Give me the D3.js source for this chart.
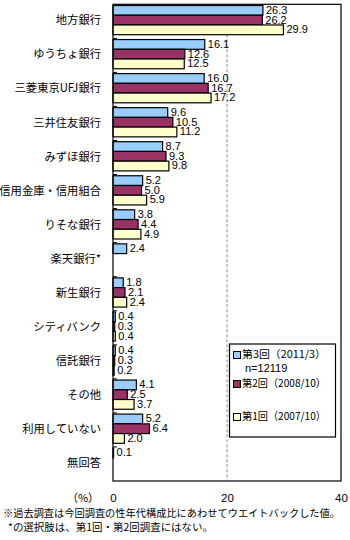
<!DOCTYPE html>
<html><head><meta charset="utf-8">
<script src="https://cdn.jsdelivr.net/npm/d3@7"></script>
<style>
body{margin:0;background:#fff;}
svg{display:block;}
</style></head>
<body>
<svg id="c" width="350" height="540"></svg>
<script>
const categories = ["地方銀行","ゆうちょ銀行","三菱東京UFJ銀行","三井住友銀行","みずほ銀行","信用金庫・信用組合","りそな銀行","楽天銀行*","新生銀行","シティバンク","信託銀行","その他","利用していない","無回答"];
const seriesNames = ["第3回（2011/3）","第2回（2008/10）","第1回（2007/10）"];
const legendSub = "n=12119";
const s3 = [26.3,16.1,16.0,9.6,8.7,5.2,3.8,2.4,1.8,0.4,0.4,4.1,5.2,0.1];
const s2 = [26.2,12.6,16.7,10.5,9.3,5.0,4.4,null,2.1,0.3,0.3,2.5,6.4,null];
const s1 = [29.9,12.5,17.2,11.2,9.8,5.9,4.9,null,2.4,0.4,0.2,3.7,2.0,null];
const xTicks = [0,20,40];
const colors = ["#99CCFF","#993366","#FFFFCC"];
const notes = ["※過去調査は今回調査の性年代構成比にあわせてウエイトバックした値。","*の選択肢は、第1回・第2回調査にはない。"];

const series = [s3,s2,s1];
const svg = d3.select("#c");
const L=113, R=341, T=4.3, B=481;
const jp = "'Noto Sans CJK JP', sans-serif";
const num = "'Liberation Sans', Arial, sans-serif";

const x = d3.scaleLinear().domain([0,40]).range([L,R]);
const y = d3.scaleBand().domain(categories).range([T,B]).padding(0);
const inner = d3.scaleBand().domain([0,1,2]).range([1.2, 30.4]).padding(0);

// gridline at 20
svg.append("line").attr("x1",x(20)).attr("x2",x(20)).attr("y1",T).attr("y2",B)
  .attr("stroke","#888").attr("stroke-width",1).attr("stroke-dasharray","3,2");

// bars
categories.forEach((c,i)=>{
  series.forEach((s,j)=>{
    const v = s[i];
    if(v==null) return;
    const y0 = y(c)+inner(j);
    svg.append("rect").attr("x",x(0)).attr("y",y0)
      .attr("width",Math.max(x(v)-x(0),0.5)).attr("height",inner.bandwidth())
      .attr("fill",colors[j]).attr("stroke","#000").attr("stroke-width",1.2);
    svg.append("text").attr("x",x(v)+3).attr("y",y0+inner.bandwidth()/2+0.5)
      .attr("dominant-baseline","middle").attr("font-family",num).attr("font-size",11)
      .attr("fill","#000").text(v.toFixed(1));
  });
});

// frame
svg.append("rect").attr("x",L).attr("y",T).attr("width",R-L).attr("height",B-T)
  .attr("fill","none").attr("stroke","#000").attr("stroke-width",1.2);

// category ticks (inside)
categories.forEach((c,i)=>{
  if(i===0) return;
  svg.append("line").attr("x1",L).attr("x2",L+4).attr("y1",y(c)).attr("y2",y(c))
    .attr("stroke","#000").attr("stroke-width",1);
});

// category labels
svg.selectAll("text.cat").data(categories).enter().append("text")
  .attr("class","cat").attr("x",101).attr("y",d=>y(d)+y.bandwidth()/2)
  .attr("text-anchor","end").attr("dominant-baseline","middle")
  .attr("font-family",jp).attr("font-size",11.3).attr("fill","#000")
  .text(d=>d);

// x axis labels
const xa = svg.append("g").attr("transform",`translate(0,${B})`)
  .call(d3.axisBottom(x).tickValues(xTicks).tickSize(0).tickPadding(13).tickFormat(d3.format("d")));
xa.select(".domain").remove();
xa.selectAll("text").attr("font-family",num).attr("font-size",11.5).attr("fill","#000");
svg.append("text").attr("x",83).attr("y",499).attr("text-anchor","middle")
  .attr("dominant-baseline","middle").attr("font-family",jp).attr("font-size",11)
  .text("（%）");

// legend
const lg = svg.append("g");
lg.append("rect").attr("x",229.5).attr("y",344).attr("width",106).attr("height",93)
  .attr("fill","#fff").attr("stroke","#000").attr("stroke-width",1.2);
const ly = [355,384,417];
seriesNames.forEach((n,j)=>{
  lg.append("rect").attr("x",233.5).attr("y",ly[j]-3.5).attr("width",7).attr("height",7)
    .attr("fill",colors[j]).attr("stroke","#000").attr("stroke-width",1);
  lg.append("text").attr("x",242).attr("y",ly[j]).attr("dominant-baseline","middle")
    .attr("font-family",jp).attr("font-size",10.5).attr("textLength",84).attr("lengthAdjust","spacingAndGlyphs").text(n);
});
lg.append("text").attr("x",245).attr("y",369).attr("dominant-baseline","middle")
  .attr("font-family",num).attr("font-size",11).text(legendSub);

// notes
svg.append("text").attr("x",3).attr("y",514).attr("dominant-baseline","middle")
  .attr("font-family",jp).attr("font-size",10).attr("textLength",337).attr("lengthAdjust","spacingAndGlyphs").text(notes[0]);
svg.append("text").attr("x",8).attr("y",528).attr("dominant-baseline","middle")
  .attr("font-family",jp).attr("font-size",10).attr("textLength",205).attr("lengthAdjust","spacingAndGlyphs").text(notes[1]);
</script>
</body></html>
